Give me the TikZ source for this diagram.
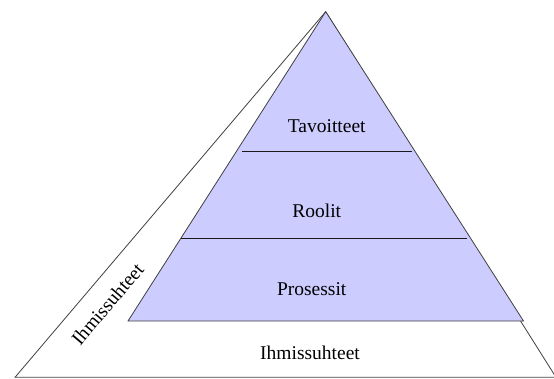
\documentclass[tikz,border=0pt]{standalone}
\usepackage{fontspec}
\setmainfont{Liberation Serif}
\usepackage{tikz}
\usetikzlibrary{positioning}
\definecolor{lavender}{RGB}{204,204,255}

\begin{document}
\begin{tikzpicture}[x=1pt,y=-1pt,
    layer/.style={font=\fontsize{19.5}{22}\selectfont, inner sep=0pt},
    edge/.style={draw=black!75, line width=0.8pt},
    divider/.style={draw=black!90, line width=0.8pt}
]
\useasboundingbox (0,0) rectangle (554,379);
% corners of the pyramid
\coordinate (apex) at (325.7,11.7);
\coordinate (outerL) at (15,377.3);
\coordinate (outerR) at (556,377.3);
\coordinate (innerL) at (128,321);
\coordinate (innerR) at (523.5,321);
\draw[edge, fill=white] (apex) -- (outerL) -- (outerR) -- cycle;
\draw[edge, fill=lavender] (apex) -- (innerL) -- (innerR) -- cycle;
% level lines
\coordinate (d1L) at (241.7,151.7);
\coordinate (d1R) at (411.7,151.7);
\coordinate (d2L) at (181,238.4);
\coordinate (d2R) at (467,238.4);
\draw[divider] (d1L) -- (d1R);
\draw[divider] (d2L) -- (d2R);
% labels
\node[layer] (goals) at (326.7,126) {Tavoitteet};
\node[layer] (roles) at (316.7,210.7) {Roolit};
\node[layer] (procs) at (311.7,289.3) {Prosessit};
\node[layer] (people) at (310,353.3) {Ihmissuhteet};
\node[layer, rotate=49.6] (peopleside) at (107.5,304) {Ihmissuhteet};
\end{tikzpicture}
\end{document}
